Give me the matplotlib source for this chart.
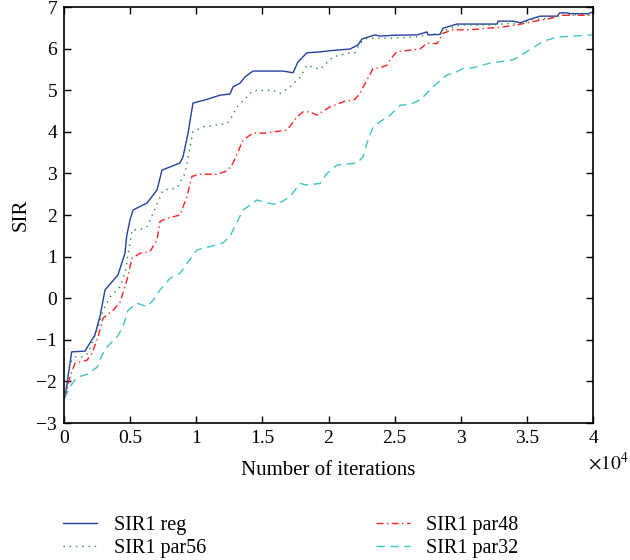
import matplotlib
matplotlib.use("Agg")
import matplotlib.pyplot as plt
from matplotlib.ticker import FuncFormatter, MultipleLocator

plt.rcParams['font.family'] = ['Liberation Serif', 'DejaVu Serif']
plt.rcParams['mathtext.fontset'] = 'stix'

# SIR vs iterations, four runs
reg_x = [0, 80, 580, 1600, 1720, 2340, 2720, 3100, 4080, 4610, 4740, 4990, 5220,
         6280, 7030, 7410, 8770, 9000, 9380, 9750, 10810, 11800, 12550, 12780,
         13310, 13690, 14290, 16560, 17320, 17690, 18370, 19360, 20110, 21630,
         22230, 22530, 23520, 23890, 24880, 26690, 27450, 27520, 28430, 28660,
         29720, 32740, 32820, 33950, 34480, 35010, 35990, 37280, 37500, 38030,
         38260, 39620, 40000]
reg_y = [-2.4, -2.37, -1.29, -1.27, -1.2, -0.88, -0.44, 0.2, 0.56, 1.08, 1.5, 1.88, 2.12,
         2.29, 2.6, 3.08, 3.25, 3.4, 3.97, 4.69, 4.78, 4.88, 4.91, 5.08,
         5.17, 5.32, 5.46, 5.46, 5.42, 5.68, 5.9, 5.92, 5.95, 5.99,
         6.09, 6.23, 6.33, 6.3, 6.32, 6.33, 6.4, 6.33, 6.34, 6.49,
         6.59, 6.59, 6.66, 6.66, 6.62, 6.68, 6.78, 6.78, 6.86, 6.86,
         6.84, 6.84, 6.88]

par56_x = [0, 80, 450, 830, 1440, 1820, 2500, 2950, 3480, 4230, 4610, 4990, 5140,
           5750, 6280, 6730, 7490, 8540, 9150, 9530, 9750, 10510, 12330, 12550,
           13080, 13840, 14290, 15800, 16330, 17090, 17850, 18370, 19360, 20110,
           20340, 21630, 22000, 22380, 22910, 24650, 26690, 27450, 28430, 29190,
           29940, 32440, 33500, 34480, 35460, 36980, 37500, 39770, 40000]
par56_y = [-2.4, -2.38, -1.56, -1.41, -1.41, -1.32, -0.77, -0.29, 0.03, 0.27, 0.6, 1.33, 1.64,
           1.65, 1.72, 2.04, 2.6, 2.65, 3.0, 3.64, 4.0, 4.12, 4.2, 4.28,
           4.6, 4.84, 4.99, 5.0, 4.92, 5.08, 5.31, 5.6, 5.5, 5.73,
           5.8, 5.9, 5.9, 6.13, 6.25, 6.25, 6.28, 6.33, 6.37, 6.49,
           6.57, 6.57, 6.6, 6.59, 6.7, 6.74, 6.8, 6.83, 6.85]

par48_x = [0, 80, 450, 830, 1740, 2120, 2570, 2950, 3710, 4230, 4760, 5140, 5750,
           6500, 7030, 7260, 7790, 8770, 9300, 9680, 10280, 11570, 12330, 12780,
           13540, 14290, 15350, 16110, 16860, 17620, 18070, 18600, 19130, 20110,
           21100, 22000, 22380, 22910, 23370, 23890, 24420, 24650, 25180, 26390,
           26920, 27450, 28200, 28660, 29410, 30700, 31990, 32970, 34250, 35460,
           36980, 37500, 39770, 40000]
par48_y = [-2.4, -2.38, -1.9, -1.56, -1.49, -1.32, -0.93, -0.48, -0.29, -0.1, 0.44, 0.96, 1.08,
           1.12, 1.4, 1.85, 1.92, 2.0, 2.45, 2.93, 2.98, 2.98, 3.06, 3.25,
           3.8, 3.97, 3.97, 4.01, 4.04, 4.36, 4.48, 4.48, 4.4, 4.6,
           4.72, 4.78, 4.93, 5.25, 5.52, 5.54, 5.6, 5.73, 5.93, 5.97,
           5.99, 6.13, 6.12, 6.37, 6.45, 6.45, 6.49, 6.51, 6.57, 6.65,
           6.74, 6.8, 6.8, 6.82]

par32_x = [0, 80, 450, 980, 1740, 2500, 2870, 3250, 4010, 4460, 4840, 5520, 6280,
           6730, 7260, 8020, 8770, 9300, 10060, 11040, 12020, 12550, 12780, 13540,
           14590, 15350, 16110, 17090, 17850, 18370, 19360, 19890, 20640, 22160,
           22610, 22910, 23370, 23890, 24650, 25410, 26160, 26920, 27900, 28960,
           29410, 30170, 30930, 32210, 33950, 35010, 36220, 37280, 38490, 40000]
par32_y = [-2.4, -2.38, -2.13, -1.9, -1.83, -1.66, -1.37, -1.17, -0.93, -0.69, -0.29, -0.12, -0.2,
           -0.05, 0.2, 0.48, 0.6, 0.84, 1.16, 1.24, 1.33, 1.48, 1.64, 2.12,
           2.36, 2.29, 2.25, 2.44, 2.76, 2.72, 2.76, 3.0, 3.2, 3.25,
           3.4, 3.73, 4.12, 4.24, 4.4, 4.64, 4.66, 4.76, 5.08, 5.37,
           5.4, 5.52, 5.54, 5.65, 5.73, 5.93, 6.17, 6.28, 6.3, 6.33]

labels = ['SIR1 reg', 'SIR1 par56', 'SIR1 par48', 'SIR1 par32']

fig = plt.figure(figsize=(6.3, 5.6), dpi=100)
ax = fig.add_axes([0.1016, 0.2446, 0.8397, 0.7429])

l1, = ax.plot(reg_x, reg_y, color='#2341a3', lw=1.0, ls='-')
l2, = ax.plot(par56_x, par56_y, color='#1f8a3c', lw=1.0, ls=(0, (1, 3.5)))
l3, = ax.plot(par48_x, par48_y, color='#ff2020', lw=1.0, ls=(0, (5, 2.5, 1, 2.5)))
l4, = ax.plot(par32_x, par32_y, color='#3cc4c4', lw=1.0, ls=(0, (6, 4)))

ax.set_xlim(0, 40000)
ax.set_ylim(-3, 7)
ax.xaxis.set_major_locator(MultipleLocator(5000))
ax.yaxis.set_major_locator(MultipleLocator(1))
ax.xaxis.set_major_formatter(FuncFormatter(lambda v, p: '%g' % (v / 1e4)))
ax.yaxis.set_major_formatter(FuncFormatter(lambda v, p: ('%g' % v).replace('-', '\u2212')))
ax.tick_params(direction='in', top=True, right=True, length=5, width=1,
               labelsize=14, pad=5)
for s in ax.spines.values():
    s.set_linewidth(1.2)

# x scale factor, placed under the last tick label
ax.text(0.99, -0.068, r'$\times 10^4$', transform=ax.transAxes, fontsize=14,
        ha='left', va='top')
ax.set_xlabel('Number of iterations', fontsize=15, labelpad=10)
ax.set_ylabel('SIR', fontsize=15, labelpad=4)

leg_kw = dict(loc='upper left', frameon=False, fontsize=14.5, handlelength=1.7,
              handletextpad=0.8, labelspacing=0.2, borderpad=0.2)
fig.legend([l1, l2], labels[:2], bbox_to_anchor=(0.078, 0.104), **leg_kw)
fig.legend([l3, l4], labels[2:], bbox_to_anchor=(0.574, 0.104), **leg_kw)

plt.savefig('out.png')
